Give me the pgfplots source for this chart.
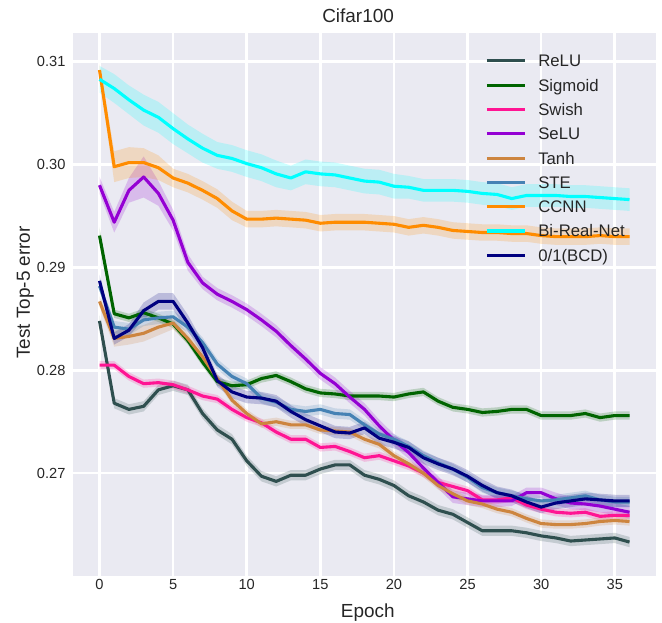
\documentclass[border=0pt]{standalone}
\usepackage{pgfplots}
\pgfplotsset{compat=1.18}
\usepackage{pgfplotstable}
\usepgfplotslibrary{fillbetween}
\usepackage{fontspec}
\setmainfont{Liberation Sans}

\definecolor{bgc}{HTML}{EAEAF2}
\definecolor{textc}{HTML}{262626}
\definecolor{cRelu}{HTML}{2F4F4F}
\definecolor{cSig}{HTML}{006400}
\definecolor{cSwi}{HTML}{FF1493}
\definecolor{cSelu}{HTML}{9400D3}
\definecolor{cTanh}{HTML}{CD853F}
\definecolor{cSte}{HTML}{4682B4}
\definecolor{cCcnn}{HTML}{FF8C00}
\definecolor{cBi}{HTML}{00FFFF}
\definecolor{cBcd}{HTML}{000080}

\pgfplotstableread{
x relu relue sig sige swi swie selu selue tanh tanhe ste stee ccnn ccnne bi bie bcd bcde
0 0.2848 0.0006 0.2931 0.0008 0.2805 0.0004 0.2980 0.0008 0.2867 0.0005 0.2882 0.0005 0.3092 0.0006 0.3083 0.0013 0.2887 0.0006
1 0.2768 0.0005 0.2855 0.0004 0.2805 0.0004 0.2944 0.0010 0.2831 0.0008 0.2842 0.0006 0.2998 0.0015 0.3074 0.0014 0.2831 0.0006
2 0.2762 0.0005 0.2851 0.0004 0.2794 0.0004 0.2975 0.0012 0.2833 0.0008 0.2840 0.0006 0.3002 0.0015 0.3063 0.0014 0.2839 0.0006
3 0.2765 0.0005 0.2856 0.0004 0.2787 0.0004 0.2988 0.0020 0.2836 0.0008 0.2849 0.0006 0.3002 0.0014 0.3053 0.0015 0.2858 0.0008
4 0.2781 0.0005 0.2851 0.0004 0.2788 0.0004 0.2972 0.0012 0.2842 0.0008 0.2851 0.0006 0.2997 0.0012 0.3046 0.0015 0.2867 0.0008
5 0.2785 0.0005 0.2845 0.0004 0.2786 0.0004 0.2946 0.0010 0.2846 0.0006 0.2852 0.0006 0.2987 0.0009 0.3035 0.0015 0.2867 0.0008
6 0.2781 0.0005 0.2829 0.0004 0.2781 0.0004 0.2905 0.0008 0.2831 0.0005 0.2842 0.0005 0.2982 0.0009 0.3025 0.0014 0.2846 0.0008
7 0.2758 0.0005 0.2808 0.0004 0.2775 0.0004 0.2885 0.0006 0.2813 0.0005 0.2827 0.0005 0.2975 0.0009 0.3016 0.0014 0.2822 0.0006
8 0.2742 0.0005 0.2789 0.0004 0.2772 0.0004 0.2874 0.0006 0.2792 0.0004 0.2806 0.0005 0.2967 0.0009 0.3009 0.0013 0.2790 0.0006
9 0.2733 0.0005 0.2785 0.0004 0.2762 0.0004 0.2867 0.0006 0.2771 0.0004 0.2794 0.0005 0.2955 0.0009 0.3006 0.0013 0.2779 0.0006
10 0.2712 0.0005 0.2786 0.0004 0.2754 0.0004 0.2859 0.0006 0.2758 0.0004 0.2787 0.0005 0.2947 0.0008 0.3001 0.0013 0.2774 0.0006
11 0.2697 0.0005 0.2792 0.0004 0.2749 0.0004 0.2849 0.0006 0.2748 0.0004 0.2773 0.0005 0.2947 0.0008 0.2997 0.0013 0.2773 0.0006
12 0.2692 0.0005 0.2795 0.0004 0.2740 0.0004 0.2838 0.0006 0.2750 0.0004 0.2769 0.0005 0.2948 0.0008 0.2991 0.0013 0.2770 0.0006
13 0.2698 0.0005 0.2789 0.0004 0.2733 0.0004 0.2824 0.0006 0.2747 0.0004 0.2762 0.0005 0.2947 0.0008 0.2987 0.0012 0.2760 0.0006
14 0.2698 0.0005 0.2782 0.0004 0.2733 0.0004 0.2811 0.0006 0.2747 0.0004 0.2760 0.0005 0.2946 0.0008 0.2993 0.0012 0.2752 0.0006
15 0.2704 0.0005 0.2778 0.0004 0.2725 0.0004 0.2797 0.0006 0.2742 0.0004 0.2762 0.0005 0.2943 0.0008 0.2991 0.0012 0.2746 0.0006
16 0.2708 0.0005 0.2777 0.0004 0.2726 0.0004 0.2787 0.0006 0.2741 0.0004 0.2758 0.0005 0.2944 0.0008 0.2990 0.0012 0.2740 0.0006
17 0.2708 0.0005 0.2775 0.0004 0.2721 0.0004 0.2774 0.0006 0.2740 0.0004 0.2757 0.0005 0.2944 0.0008 0.2987 0.0012 0.2739 0.0006
18 0.2698 0.0005 0.2775 0.0004 0.2715 0.0004 0.2762 0.0006 0.2733 0.0004 0.2747 0.0005 0.2944 0.0008 0.2984 0.0012 0.2744 0.0006
19 0.2694 0.0005 0.2775 0.0004 0.2717 0.0004 0.2746 0.0006 0.2728 0.0004 0.2738 0.0005 0.2943 0.0008 0.2983 0.0012 0.2734 0.0006
20 0.2688 0.0005 0.2774 0.0004 0.2712 0.0004 0.2732 0.0006 0.2717 0.0004 0.2733 0.0005 0.2942 0.0008 0.2979 0.0012 0.2730 0.0006
21 0.2678 0.0005 0.2777 0.0004 0.2707 0.0004 0.2720 0.0006 0.2709 0.0004 0.2726 0.0005 0.2939 0.0008 0.2978 0.0011 0.2725 0.0006
22 0.2672 0.0005 0.2779 0.0004 0.2700 0.0004 0.2705 0.0006 0.2700 0.0004 0.2717 0.0005 0.2941 0.0008 0.2975 0.0011 0.2715 0.0006
23 0.2664 0.0005 0.2770 0.0004 0.2691 0.0004 0.2691 0.0006 0.2688 0.0004 0.2710 0.0005 0.2939 0.0008 0.2975 0.0011 0.2709 0.0006
24 0.2660 0.0005 0.2764 0.0004 0.2687 0.0004 0.2677 0.0006 0.2680 0.0004 0.2704 0.0005 0.2936 0.0008 0.2975 0.0011 0.2704 0.0006
25 0.2652 0.0005 0.2762 0.0004 0.2683 0.0004 0.2675 0.0006 0.2673 0.0004 0.2696 0.0005 0.2935 0.0008 0.2974 0.0011 0.2697 0.0006
26 0.2644 0.0005 0.2759 0.0004 0.2674 0.0004 0.2673 0.0006 0.2670 0.0004 0.2686 0.0005 0.2934 0.0008 0.2972 0.0011 0.2688 0.0006
27 0.2644 0.0005 0.2760 0.0004 0.2674 0.0004 0.2673 0.0006 0.2665 0.0004 0.2681 0.0005 0.2934 0.0008 0.2971 0.0011 0.2681 0.0006
28 0.2644 0.0005 0.2762 0.0004 0.2676 0.0004 0.2673 0.0005 0.2662 0.0004 0.2678 0.0005 0.2933 0.0008 0.2967 0.0011 0.2678 0.0006
29 0.2642 0.0005 0.2762 0.0004 0.2669 0.0004 0.2681 0.0005 0.2656 0.0004 0.2675 0.0005 0.2933 0.0008 0.2970 0.0011 0.2672 0.0006
30 0.2639 0.0005 0.2756 0.0004 0.2665 0.0004 0.2681 0.0005 0.2651 0.0004 0.2673 0.0005 0.2931 0.0008 0.2970 0.0011 0.2667 0.0006
31 0.2637 0.0005 0.2756 0.0004 0.2662 0.0004 0.2675 0.0006 0.2650 0.0004 0.2674 0.0005 0.2930 0.0008 0.2970 0.0011 0.2671 0.0006
32 0.2634 0.0005 0.2756 0.0004 0.2661 0.0004 0.2671 0.0006 0.2650 0.0004 0.2676 0.0005 0.2930 0.0008 0.2969 0.0011 0.2673 0.0006
33 0.2635 0.0005 0.2758 0.0004 0.2662 0.0004 0.2670 0.0006 0.2651 0.0004 0.2678 0.0005 0.2930 0.0008 0.2969 0.0011 0.2675 0.0006
34 0.2636 0.0005 0.2754 0.0004 0.2658 0.0004 0.2668 0.0006 0.2653 0.0004 0.2674 0.0005 0.2931 0.0008 0.2968 0.0011 0.2674 0.0006
35 0.2637 0.0005 0.2756 0.0004 0.2659 0.0004 0.2665 0.0006 0.2654 0.0004 0.2672 0.0005 0.2930 0.0008 0.2967 0.0011 0.2673 0.0006
36 0.2633 0.0005 0.2756 0.0004 0.2659 0.0004 0.2662 0.0006 0.2653 0.0004 0.2672 0.0005 0.2930 0.0008 0.2966 0.0011 0.2673 0.0006
}\data

\newcommand{\plotseries}[3]{%
  \addplot[draw=none, forget plot, name path=#1up] table[x=x, y expr=\thisrow{#1}+\thisrow{#2}] {\data};
  \addplot[draw=none, forget plot, name path=#1lo] table[x=x, y expr=\thisrow{#1}-\thisrow{#2}] {\data};
  \addplot[fill=#3, fill opacity=0.2, draw=none, forget plot] fill between[of=#1up and #1lo];
  \addplot[#3, line width=3.1bp, line join=round] table[x=x, y=#1] {\data};
}

\begin{document}
\begin{tikzpicture}
\begin{axis}[
  at={(0,0)}, anchor=south west,
  width=583bp, height=543bp, scale only axis,
  xmin=-1.8, xmax=37.8, ymin=0.2600, ymax=0.3128,
  axis background/.style={fill=bgc},
  axis line style={draw=none},
  grid=major, major grid style={white, line width=2.6bp},
  major tick length=0pt,
  xtick={0,5,10,15,20,25,30,35},
  ytick={0.27,0.28,0.29,0.30,0.31},
  scaled y ticks=false,
  /pgf/number format/assume math mode=true,
  yticklabel={\pgfmathprintnumber[fixed, fixed zerofill, precision=2]{\tick}},
  tick label style={font=\fontsize{14.7}{17}\selectfont, text=textc},
  xticklabel style={inner sep=0pt, anchor=north, yshift=-3.5bp},
  yticklabel style={inner sep=0pt, anchor=east, xshift=-7.3bp},
  title={Cifar100},
  title style={at={(axis description cs:0.489,1)}, anchor=base, yshift=4.5bp, font=\fontsize{19}{22}\selectfont, text=textc, inner sep=0pt},
  xlabel={Epoch},
  xlabel style={at={(axis description cs:0.5057,0)}, anchor=base, yshift=-41.7bp, font=\fontsize{19}{22}\selectfont, text=textc, inner sep=0pt},
  ylabel={Test Top-5 error},
  ylabel style={at={(axis description cs:0,0.5221)}, rotate=0, anchor=base, yshift=43bp, font=\fontsize{19}{22}\selectfont, text=textc, inner sep=0pt},
  legend cell align=left,
  legend image code/.code={\draw[#1, line width=3.1bp] (0bp,0bp) -- (38bp,0bp);},
  legend style={at={(axis description cs:0.7067,0.9619)}, anchor=north west,
    draw=none, fill=none, inner sep=0pt, text=textc,
    font=\fontsize{16.8}{20}\selectfont,
    row sep=10.3bp,
    nodes={inner sep=1bp, text height=12bp, text depth=0bp},
    /tikz/every odd column/.append style={column sep=11bp}},
]
\plotseries{relu}{relue}{cRelu}
\addlegendentry{ReLU}
\plotseries{sig}{sige}{cSig}
\addlegendentry{Sigmoid}
\plotseries{swi}{swie}{cSwi}
\addlegendentry{Swish}
\plotseries{selu}{selue}{cSelu}
\addlegendentry{SeLU}
\plotseries{tanh}{tanhe}{cTanh}
\addlegendentry{Tanh}
\plotseries{ste}{stee}{cSte}
\addlegendentry{STE}
\plotseries{ccnn}{ccnne}{cCcnn}
\addlegendentry{CCNN}
\plotseries{bi}{bie}{cBi}
\addlegendentry{Bi-Real-Net}
\plotseries{bcd}{bcde}{cBcd}
\addlegendentry{0/1(BCD)}
\end{axis}
\pgfresetboundingbox
\useasboundingbox (-73bp,-47bp) rectangle (589bp,576bp);
\end{tikzpicture}
\end{document}
